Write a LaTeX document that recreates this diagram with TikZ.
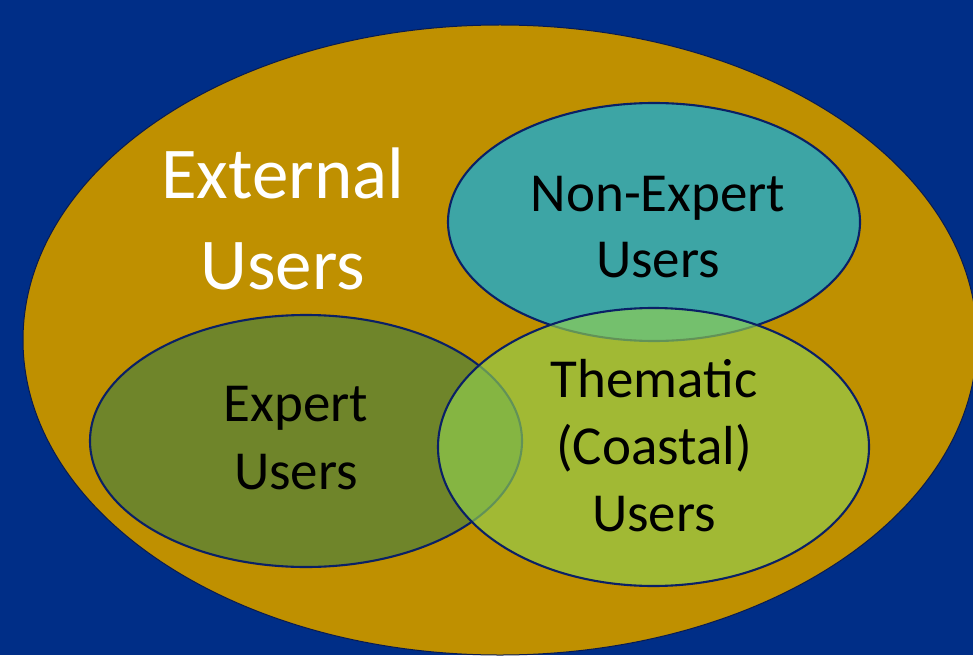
\documentclass[tikz,border=0pt]{standalone}
\usepackage{fontspec}
\setmainfont{Carlito}
\usetikzlibrary{shapes.geometric}
\definecolor{bgblue}{HTML}{002E87}
\definecolor{gold}{HTML}{BF9000}
\definecolor{tealfill}{HTML}{3DA5A5}
\definecolor{olivefill}{HTML}{6F852A}
\definecolor{limefill}{HTML}{92D050}
\definecolor{navyline}{HTML}{0A2066}
\tikzset{
  setbox/.style={ellipse, inner sep=0pt, outer sep=0pt, draw=navyline, line width=2.1pt},
  biglabel/.style={anchor=base, inner sep=0pt, text=white, font=\fontsize{73}{74}\selectfont},
  setlabel/.style={anchor=base, inner sep=0pt, text=black, font=\fontsize{55}{67}\selectfont}
}
\begin{document}
\begin{tikzpicture}[x=1pt,y=-1pt]
\useasboundingbox (0,0) rectangle (973,655);
\clip (0,0) rectangle (973,655);
\fill[bgblue] (0,0) rectangle (973,655);
% outer set
\node[ellipse, inner sep=0pt, outer sep=0pt, draw=navyline!80!black, line width=1pt, fill=gold,
      minimum width=954pt, minimum height=630pt] (ext) at (500,340) {};
% inner sets
\node[setbox, fill=tealfill, minimum width=412pt, minimum height=238pt] (nonexp) at (654,222) {};
\node[setbox, fill=olivefill, minimum width=432pt, minimum height=252pt] (exp) at (306,441) {};
\node[setbox, fill=limefill, fill opacity=0.65, draw opacity=1, minimum width=431pt, minimum height=278pt] (them) at (653.5,447) {};
% labels
\node[biglabel] (extA) at (282.5,198) {External};
\node[biglabel] (extB) at (282.5,289) {Users};
\node[setlabel] (nonA) at (658,211) {Non-Expert};
\node[setlabel] (nonB) at (658,277) {Users};
\node[setlabel] (expA) at (296,421) {Expert};
\node[setlabel] (expB) at (296,489) {Users};
\node[setlabel] (thA) at (654,397) {Thematic};
\node[setlabel] (thB) at (654,464) {(Coastal)};
\node[setlabel] (thC) at (654,531) {Users};
\end{tikzpicture}
\end{document}
